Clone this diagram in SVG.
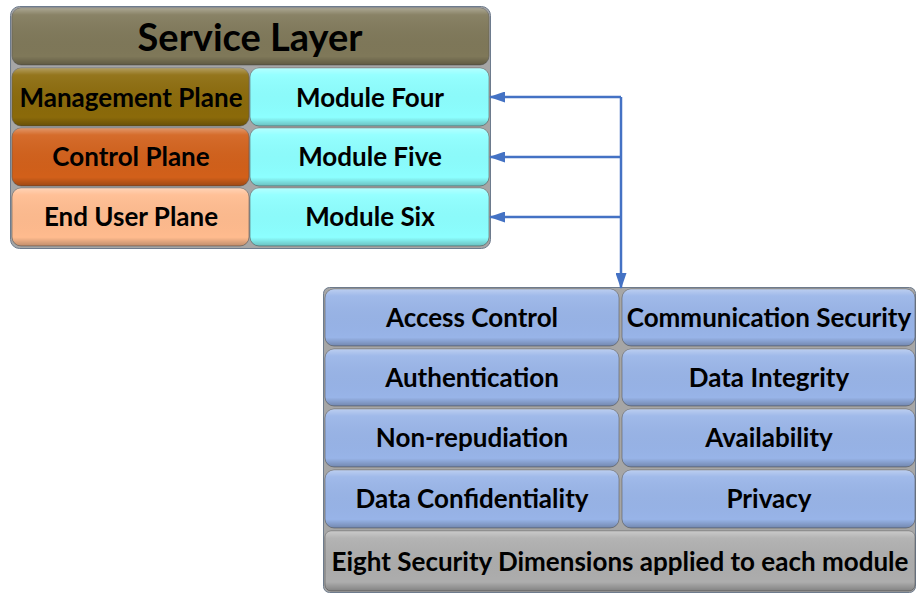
<svg xmlns="http://www.w3.org/2000/svg" width="916" height="593" viewBox="0 0 916 593">
  <defs>
    <linearGradient id="gloss" x1="0" y1="0" x2="0" y2="1">
      <stop offset="0" stop-color="#ffffff" stop-opacity="0.35"/>
      <stop offset="0.12" stop-color="#ffffff" stop-opacity="0.08"/>
      <stop offset="0.85" stop-color="#000000" stop-opacity="0"/>
      <stop offset="1" stop-color="#000000" stop-opacity="0.25"/>
    </linearGradient>
    <marker id="arrow" viewBox="0 0 16 11" refX="15" refY="5.5" markerWidth="16" markerHeight="11" orient="auto-start-reverse" markerUnits="userSpaceOnUse">
      <path d="M0,0 L16,5.5 L0,11 z" fill="#4472C4"/>
    </marker>
  </defs>
  <style>
    .frame { fill: #a6a6a6; stroke: #6d7b8d; stroke-width: 1; }
    .box { stroke: #555555; stroke-opacity: 0.55; stroke-width: 1; }
    .gloss { fill: url(#gloss); }
    .lbl { font-family: Lato, "Open Sans", sans-serif; font-weight: bold; fill: #000000; text-anchor: middle; dominant-baseline: central; font-size: 26px; }
    .title { font-size: 38px; }
    .link { fill: none; stroke: #4472C4; stroke-width: 2.5; }
  </style>

  <!-- Service layer stack -->
  <rect class="frame" x="10.5" y="6.5" width="480" height="242" rx="9"/>
  <g id="service-layer">
    <rect class="box" x="12" y="8" width="477" height="57" rx="9" fill="#7f7859"/>
    <rect class="gloss" x="12" y="8" width="477" height="57" rx="9"/>
    <text class="lbl title" x="250" y="35.5">Service Layer</text>
  </g>
  <g id="management-plane">
    <rect class="box" x="12" y="68" width="237" height="58" rx="9" fill="#8b6a0a"/>
    <rect class="gloss" x="12" y="68" width="237" height="58" rx="9"/>
    <text class="lbl" x="131" y="97">Management Plane</text>
  </g>
  <g id="control-plane">
    <rect class="box" x="12" y="128" width="237" height="58" rx="9" fill="#d2601a"/>
    <rect class="gloss" x="12" y="128" width="237" height="58" rx="9"/>
    <text class="lbl" x="131" y="156">Control Plane</text>
  </g>
  <g id="end-user-plane">
    <rect class="box" x="12" y="188" width="237" height="58" rx="9" fill="#ffbb8e"/>
    <rect class="gloss" x="12" y="188" width="237" height="58" rx="9"/>
    <text class="lbl" x="131" y="216">End User Plane</text>
  </g>
  <g id="module-four">
    <rect class="box" x="250" y="68" width="239" height="58" rx="9" fill="#8cffff"/>
    <rect class="gloss" x="250" y="68" width="239" height="58" rx="9"/>
    <text class="lbl" x="370" y="97">Module Four</text>
  </g>
  <g id="module-five">
    <rect class="box" x="250" y="128" width="239" height="58" rx="9" fill="#8cffff"/>
    <rect class="gloss" x="250" y="128" width="239" height="58" rx="9"/>
    <text class="lbl" x="370" y="156">Module Five</text>
  </g>
  <g id="module-six">
    <rect class="box" x="250" y="188" width="239" height="58" rx="9" fill="#8cffff"/>
    <rect class="gloss" x="250" y="188" width="239" height="58" rx="9"/>
    <text class="lbl" x="370" y="216">Module Six</text>
  </g>

  <!-- Security dimensions stack -->
  <rect class="frame" x="323.5" y="287.5" width="592" height="305" rx="6"/>
  <g id="access-control">
    <rect class="box" x="325" y="289" width="294" height="57" rx="9" fill="#98b4e8"/>
    <rect class="gloss" x="325" y="289" width="294" height="57" rx="9"/>
    <text class="lbl" x="472" y="317">Access Control</text>
  </g>
  <g id="communication-security">
    <rect class="box" x="622" y="289" width="293" height="57" rx="9" fill="#98b4e8"/>
    <rect class="gloss" x="622" y="289" width="293" height="57" rx="9"/>
    <text class="lbl" x="769" y="317">Communication Security</text>
  </g>
  <g id="authentication">
    <rect class="box" x="325" y="349" width="294" height="57" rx="9" fill="#98b4e8"/>
    <rect class="gloss" x="325" y="349" width="294" height="57" rx="9"/>
    <text class="lbl" x="472" y="377">Authentication</text>
  </g>
  <g id="data-integrity">
    <rect class="box" x="622" y="349" width="293" height="57" rx="9" fill="#98b4e8"/>
    <rect class="gloss" x="622" y="349" width="293" height="57" rx="9"/>
    <text class="lbl" x="769" y="377">Data Integrity</text>
  </g>
  <g id="non-repudiation">
    <rect class="box" x="325" y="409" width="294" height="58" rx="9" fill="#98b4e8"/>
    <rect class="gloss" x="325" y="409" width="294" height="58" rx="9"/>
    <text class="lbl" x="472" y="437">Non-repudiation</text>
  </g>
  <g id="availability">
    <rect class="box" x="622" y="409" width="293" height="58" rx="9" fill="#98b4e8"/>
    <rect class="gloss" x="622" y="409" width="293" height="58" rx="9"/>
    <text class="lbl" x="769" y="437">Availability</text>
  </g>
  <g id="data-confidentiality">
    <rect class="box" x="325" y="470" width="294" height="58" rx="9" fill="#98b4e8"/>
    <rect class="gloss" x="325" y="470" width="294" height="58" rx="9"/>
    <text class="lbl" x="472" y="498">Data Confidentiality</text>
  </g>
  <g id="privacy">
    <rect class="box" x="622" y="470" width="293" height="58" rx="9" fill="#98b4e8"/>
    <rect class="gloss" x="622" y="470" width="293" height="58" rx="9"/>
    <text class="lbl" x="769" y="498">Privacy</text>
  </g>
  <g id="eight-dimensions">
    <rect class="box" x="325" y="531" width="590" height="60" rx="6" fill="#adadad"/>
    <rect class="gloss" x="325" y="531" width="590" height="60" rx="6"/>
    <text class="lbl" x="620" y="561">Eight Security Dimensions applied to each module</text>
  </g>

  <!-- Connectors -->
  <g id="connectors">
    <line class="link" x1="621" y1="97" x2="621" y2="288" marker-end="url(#arrow)"/>
    <line class="link" x1="621" y1="97" x2="490" y2="97" marker-end="url(#arrow)"/>
    <line class="link" x1="621" y1="157" x2="490" y2="157" marker-end="url(#arrow)"/>
    <line class="link" x1="621" y1="217" x2="490" y2="217" marker-end="url(#arrow)"/>
  </g>
</svg>
